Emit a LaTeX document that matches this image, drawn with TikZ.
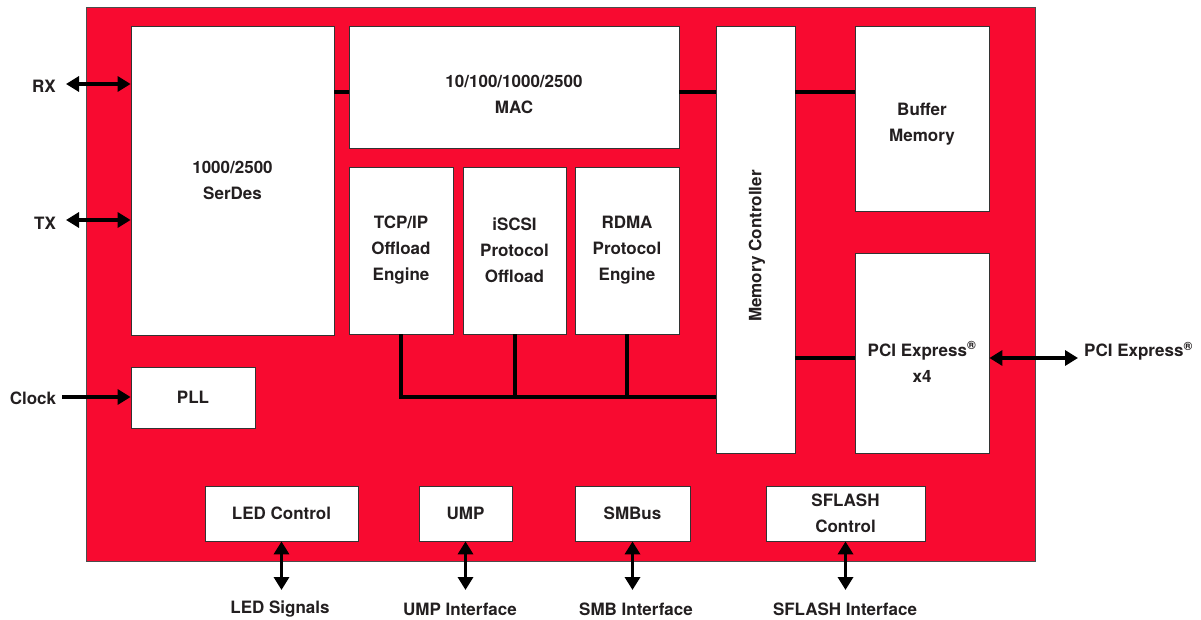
\documentclass[tikz,border=0pt]{standalone}
\usepackage{fontspec}
\setmainfont{TeX Gyre Heros}
\usetikzlibrary{arrows.meta,calc}
\definecolor{chipred}{HTML}{F80A30}
\definecolor{txt}{HTML}{231F20}
\tikzset{
  blk/.style={draw=black!80, line width=0.8pt, fill=white, align=center, inner sep=0pt, text=txt, font=\fontsize{17}{26}\selectfont\bfseries},
  lbl/.style={text=txt, font=\fontsize{17}{26}\selectfont\bfseries, inner sep=0pt},
  bus/.style={line width=4pt, black},
  dbl/.style={line width=3.5pt, {Triangle[length=13pt,width=15pt]}-{Triangle[length=13pt,width=15pt]}},
  sgl/.style={line width=3.5pt, -{Triangle[length=13pt,width=15pt]}}
}
\begin{document}
\begin{tikzpicture}[x=1pt,y=-1pt]
\useasboundingbox (0,0) rectangle (1201,620);
\fill[white] (0,0) rectangle (1201,620);
\draw[fill=chipred, draw=black!70, line width=0.8pt] (86,7) rectangle (1035,561);
% blocks
\node[blk, minimum width=203, minimum height=309] (ser) at (232.5,180.5) {1000/2500\\SerDes};
\node[blk, minimum width=330, minimum height=122] (mac) at (514,87) {};
\node[lbl, align=center] (mact) at (514,94) {10/100/1000/2500\\MAC};
\node[blk, minimum width=104, minimum height=167] (tcp) at (401,250.5) {TCP/IP\\Offload\\Engine};
\node[blk, minimum width=103, minimum height=167] (iscsi) at (514.5,250.5) {iSCSI\\Protocol\\Offload};
\node[blk, minimum width=104, minimum height=167] (rdma) at (627,250.5) {RDMA\\Protocol\\Engine};
\node[blk, minimum width=79, minimum height=427] (mem) at (755.5,239.5) {};
\node[lbl, rotate=90] (memt) at (757,246) {Memory Controller};
\node[blk, minimum width=134, minimum height=185] (buf) at (922,118.5) {};
\node[lbl, align=center] (buft) at (922,124) {Buffer\\Memory};
\node[blk, minimum width=134, minimum height=200] (pci) at (922,353) {};
\node[lbl, align=center] (pcit) at (922,362) {PCI Express\textsuperscript{\textregistered}\\x4};
\node[blk, minimum width=124, minimum height=61] (pll) at (193,397.5) {PLL};
\node[blk, minimum width=153, minimum height=55] (led) at (281.5,513.5) {LED Control};
\node[blk, minimum width=93, minimum height=55] (ump) at (465.5,513.5) {UMP};
\node[blk, minimum width=115, minimum height=55] (smb) at (632.5,513.5) {SMBus};
\node[blk, minimum width=159, minimum height=55] (sfl) at (845.5,513.5) {SFLASH\\Control};
% internal connectors
\path ([yshift=-5pt]mac.west) coordinate (m1);
\path ([yshift=-5pt]mac.east) coordinate (m2);
\path ([yshift=-5pt]pci.west) coordinate (p1);
\coordinate (busy) at (0,397);
\draw[bus] (m1) -- (m1 -| ser.east);
\draw[bus] (m2) -- (m2 -| mem.west);
\draw[bus] (m2 -| mem.east) -- (m2 -| buf.west);
\draw[bus] (p1) -- (p1 -| mem.east);
\draw[bus] (tcp.south) -- (tcp.south |- busy) -- (busy -| mem.west);
\draw[bus] (iscsi.south) -- (iscsi.south |- busy);
\draw[bus] (rdma.south) -- (rdma.south |- busy);
% external arrows
\coordinate (rx) at (66,84);
\coordinate (tx) at (66,220);
\coordinate (ck) at (62,397);
\coordinate (pe) at (1078,0);
\coordinate (bot) at (0,590);
\draw[dbl] (rx) -- (rx -| ser.west);
\draw[dbl] (tx) -- (tx -| ser.west);
\draw[sgl] (ck) -- (ck -| pll.west);
\draw[dbl] (p1 -| pci.east) -- (p1 -| pe);
\draw[dbl] (led.south) -- (led.south |- bot);
\draw[dbl] (ump.south) -- (ump.south |- bot);
\draw[dbl] (smb.south) -- (smb.south |- bot);
\draw[dbl] (sfl.south) -- (sfl.south |- bot);
% labels
\node[lbl] (rxl) at (44,86) {RX};
\node[lbl] (txl) at (45,223) {TX};
\node[lbl] (ckl) at (33,398) {Clock};
\node[lbl, anchor=west] (pel) at (1084,351) {PCI Express\textsuperscript{\textregistered}};
\node[lbl] (ledl) at (280,609) {LED Signals};
\node[lbl] (umpl) at (460,609) {UMP Interface};
\node[lbl] (smbl) at (636,609) {SMB Interface};
\node[lbl] (sfll) at (845,609) {SFLASH Interface};
\end{tikzpicture}
\end{document}
